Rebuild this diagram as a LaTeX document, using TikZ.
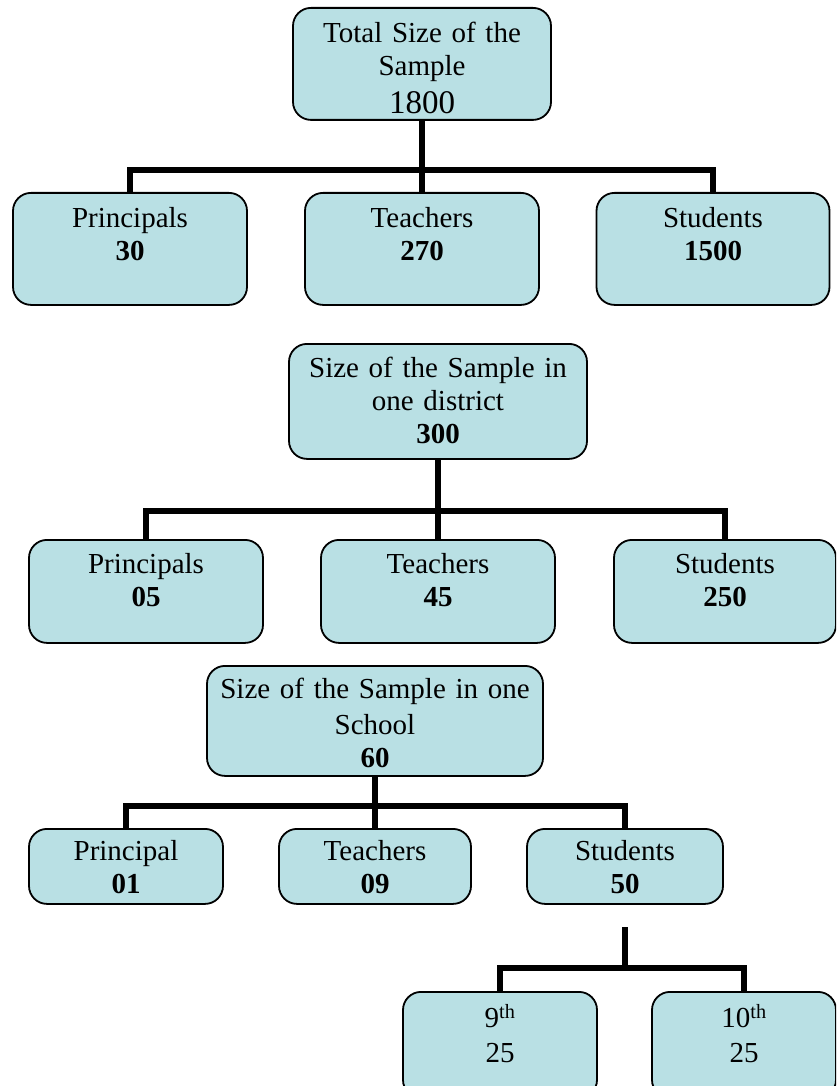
\documentclass[tikz,border=0pt]{standalone}
\usepackage{fontspec}
\setmainfont{Liberation Serif}

\definecolor{boxblue}{RGB}{185,224,228}
\tikzset{
  box/.style={rectangle, draw, line width=1.8pt, rounded corners=18pt, fill=boxblue,
    align=center, inner sep=0pt, anchor=north, font=\fontsize{29}{33}\selectfont},
  link/.style={line width=6pt}
}

\begin{document}
\begin{tikzpicture}[x=1pt, y=-1pt]
\useasboundingbox (0, 0) rectangle (836, 1086);
\clip (0, 0) rectangle (836, 1086);

% whole sample
\node at (422, 7) [box, text width=258pt, text height=35pt, text depth=77pt] (total) {Total Size of the\\Sample\\[5pt]{\fontsize{33}{38}\selectfont 1800}};
\node at (130, 192) [box, text width=234pt, text height=35pt, text depth=77pt] (prin1) {Principals\\\textbf{30}};
\node at (422, 192) [box, text width=234pt, text height=35pt, text depth=77pt] (teach1) {Teachers\\\textbf{270}};
\node at (713, 192) [box, text width=233pt, text height=35pt, text depth=77pt] (stud1) {Students\\\textbf{1500}};

\coordinate (j1) at (422, 170);
\draw[link] (total.south) -- (j1);
\draw[link] (prin1.north) |- (j1) -| (stud1.north);
\draw[link] (j1) -- (teach1.north);

% one district
\node at (438, 343) [box, text width=298pt, text height=34pt, text depth=81pt] (district) {Size of the Sample in\\one district\\\textbf{300}};
\node at (146, 539) [box, text width=234pt, text height=34pt, text depth=69pt] (prin2) {Principals\\\textbf{05}};
\node at (438, 539) [box, text width=234pt, text height=34pt, text depth=69pt] (teach2) {Teachers\\\textbf{45}};
\node at (725, 539) [box, text width=222pt, text height=34pt, text depth=69pt] (stud2) {Students\\\textbf{250}};

\coordinate (j2) at (438, 511);
\draw[link] (district.south) -- (j2);
\draw[link] (prin2.north) |- (j2) -| (stud2.north);
\draw[link] (j2) -- (teach2.north);

% one school
\node at (375, 665) [box, text width=336pt, text height=33pt, text depth=77pt] (school) {Size of the Sample in one\\[3pt]School\\\textbf{60}};
\node at (126, 828) [box, text width=194pt, text height=32pt, text depth=43pt] (prin3) {Principal\\\textbf{01}};
\node at (375, 828) [box, text width=192pt, text height=32pt, text depth=43pt] (teach3) {Teachers\\\textbf{09}};
\node at (625, 828) [box, text width=196pt, text height=32pt, text depth=43pt] (stud3) {Students\\\textbf{50}};

\coordinate (j3) at (375, 806);
\draw[link] (school.south) -- (j3);
\draw[link] (prin3.north) |- (j3) -| (stud3.north);
\draw[link] (j3) -- (teach3.north);

% classes
\node at (500, 991) [box, text width=194pt, text height=36pt, text depth=70pt] (g9) {9\textsuperscript{th}\\[2pt]25};
\node at (744, 991) [box, text width=184pt, text height=36pt, text depth=70pt] (g10) {10\textsuperscript{th}\\[2pt]25};

\coordinate (c4) at (625, 927);
\coordinate (j4) at (625, 968);
\draw[link] (c4) -- (j4);
\draw[link] (g9.north) |- (j4) -| (g10.north);
\end{tikzpicture}
\end{document}
